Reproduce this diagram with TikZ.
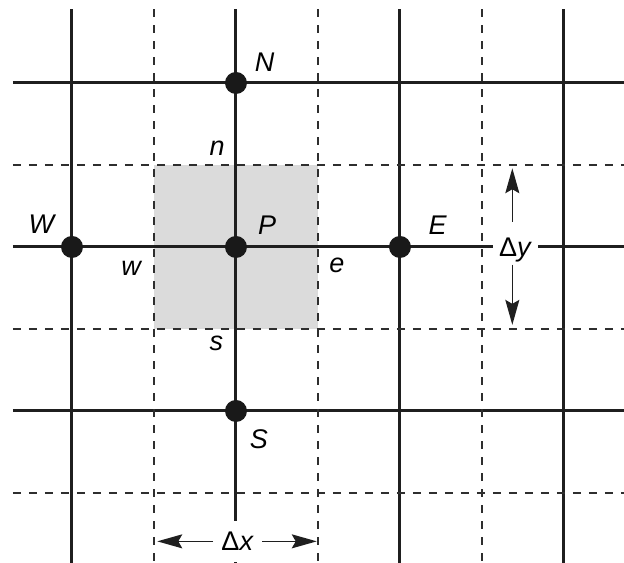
\documentclass[tikz,border=0pt]{standalone}
\usepackage{fontspec}
\setmainfont{Liberation Sans}
\usetikzlibrary{arrows.meta}

\tikzset{
  gridline/.style={line width=1.5pt,black!88},
  halfline/.style={line width=0.65pt,black!82,dash pattern=on 4pt off 4pt},
  nodept/.style={circle,fill=black!90,inner sep=0pt,minimum size=11pt},
  lbl/.style={font=\fontsize{13.5}{16}\selectfont,inner sep=0pt},
  arrowline/.style={->,line width=0.7pt,black!88},
}

\begin{document}
\begin{tikzpicture}[>={Stealth[length=12.5pt,width=7pt,inset=2pt]},x=41pt,y=41pt]
  \useasboundingbox (-2.878,-3.854) rectangle (4.732,3.012);
  % control volume around P
  \fill[black!14] (-1,-1) rectangle (1,1);
  \foreach \i in {-2,0,2,4}{ \draw[gridline] (\i,2.9) -- (\i,-3.854); }
  \foreach \j in {2,0,-2}{ \draw[gridline] (-2.72,\j) -- (4.732,\j); }
  % spacing labels
  \node[lbl,fill=white,inner xsep=4pt,inner ysep=5.5pt] (dx) at (0.02,-3.59) {Δ\textit{x}};
  \node[lbl,fill=white,inner xsep=3pt,inner ysep=1pt] (dy) at (3.41,-0.04) {Δ\textit{y}};
  \foreach \i in {-1,1,3}{ \draw[halfline] (\i,2.9) -- (\i,-3.854); }
  \foreach \j in {1,-1,-3}{ \draw[halfline] (-2.72,\j) -- (4.732,\j); }
  % grid points
  \node[nodept] (P) at (0,0) {};
  \node[nodept] (N) at (0,2) {};
  \node[nodept] (S) at (0,-2) {};
  \node[nodept] (W) at (-2,0) {};
  \node[nodept] (E) at (2,0) {};
  \node[lbl] (labP) at (0.38,0.27) {\textit{P}};
  \node[lbl] (labN) at (0.35,2.25) {\textit{N}};
  \node[lbl] (labS) at (0.28,-2.35) {\textit{S}};
  \node[lbl] (labW) at (-2.36,0.28) {\textit{W}};
  \node[lbl] (labE) at (2.46,0.27) {\textit{E}};
  \node[lbl] (labn) at (-0.23,1.21) {\textit{n}};
  \node[lbl] (labs) at (-0.24,-1.17) {\textit{s}};
  \node[lbl] (labw) at (-1.27,-0.26) {\textit{w}};
  \node[lbl] (labe) at (1.23,-0.23) {\textit{e}};
  % arrows
  \coordinate (dxl) at (-0.96,-3.59);
  \coordinate (dxr) at (0.985,-3.59);
  \coordinate (dyt) at (3.37,0.96);
  \coordinate (dyb) at (3.37,-0.95);
  \draw[arrowline] (dx) -- (dxl);
  \draw[arrowline] (dx) -- (dxr);
  \draw[arrowline] ([yshift=7pt]dy.north -| dyt) -- (dyt);
  \draw[arrowline] (dy.south -| dyb) -- (dyb);
\end{tikzpicture}
\end{document}
